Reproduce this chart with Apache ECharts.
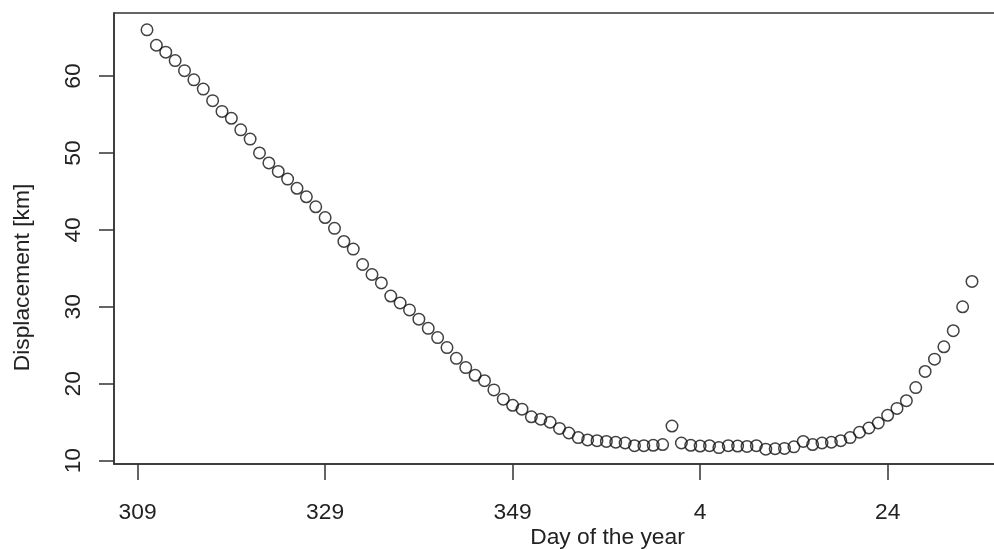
<!DOCTYPE html>
<html>
<head>
<meta charset="utf-8">
<script src="https://cdn.jsdelivr.net/npm/echarts@6/dist/echarts.min.js"></script>
<style>
html,body{margin:0;padding:0;background:#fff;}
#chart{width:994px;height:549px;}
</style>
</head>
<body>
<div id="chart"></div>
<script>
// Day of year (days after 365 belong to the next year)
const days = [310,311,312,313,314,315,316,317,318,319,320,321,322,323,324,325,326,327,328,329,
  330,331,332,333,334,335,336,337,338,339,340,341,342,343,344,345,346,347,348,349,
  350,351,352,353,354,355,356,357,358,359,360,361,362,363,364,365,366,367,368,369,
  370,371,372,373,374,375,376,377,378,379,380,381,382,383,384,385,386,387,388,389,
  390,391,392,393,394,395,396,397,398];
// Displacement [km]
const displacement = [66.0,64.0,63.1,62.0,60.7,59.5,58.3,56.8,55.4,54.5,53.0,51.8,50.0,48.7,47.6,46.6,45.4,44.3,43.0,41.6,
  40.2,38.5,37.5,35.5,34.2,33.1,31.4,30.5,29.6,28.4,27.2,26.0,24.7,23.3,22.1,21.1,20.4,19.2,18.0,17.2,
  16.7,15.7,15.4,15.0,14.2,13.6,13.0,12.7,12.6,12.5,12.4,12.3,11.95,11.95,12.0,12.1,14.5,12.3,12.0,11.9,
  11.95,11.7,11.95,11.9,11.85,11.95,11.5,11.55,11.6,11.8,12.5,12.1,12.3,12.4,12.6,13.0,13.7,14.25,14.9,15.9,
  16.8,17.8,19.5,21.6,23.2,24.8,26.9,30.0,33.3];
const xTicks = [309,329,349,369,389];
const yTicks = [10,20,30,40,50,60];
const xLabel = "Day of the year";
const yLabel = "Displacement [km]";

const points = days.map((d,i)=>[d, displacement[i]]);
const FONT = "'Liberation Sans', Arial, Helvetica, sans-serif";
const INK = '#222';
const FS = 22.8;

const chart = echarts.init(document.getElementById('chart'), null, {renderer:'canvas'});
chart.setOption({
  animation:false,
  backgroundColor:'#fff',
  grid:{left:114, top:13, bottom:85, right:-11, show:true, borderColor:'#333', borderWidth:1.5,
        containLabel:false, outerBoundsMode:'none'},
  xAxis:{
    type:'value', min:306.48, max:401.52,
    splitLine:{show:false},
    axisLine:{show:true, onZero:false, lineStyle:{color:'#333', width:1.5}},
    axisTick:{show:true, inside:false, length:16, customValues:xTicks, lineStyle:{color:'#333', width:1.5}},
    axisLabel:{customValues:xTicks, margin:37, fontSize:FS, color:INK, fontFamily:FONT,
      formatter:v=> String(v>365 ? v-365 : v)},
    name:xLabel, nameLocation:'middle', nameGap:62, nameMoveOverlap:false,
    nameTextStyle:{fontSize:FS, color:INK, fontFamily:FONT, padding:[0,0,0,96]}
  },
  yAxis:{
    type:'value', min:9.57, max:68.19,
    splitLine:{show:false},
    axisLine:{show:true, onZero:false, lineStyle:{color:'#333', width:1.5}},
    axisTick:{show:true, inside:false, length:15, customValues:yTicks, lineStyle:{color:'#333', width:1.5}},
    axisLabel:{customValues:yTicks, rotate:90, margin:29, fontSize:FS, color:INK, fontFamily:FONT},
    name:yLabel, nameLocation:'middle', nameGap:80, nameMoveOverlap:false,
    nameTextStyle:{fontSize:FS, color:INK, fontFamily:FONT, padding:[0,78,0,0]}
  },
  series:[{
    type:'scatter',
    data:points,
    symbol:'circle',
    symbolSize:11.5,
    itemStyle:{color:'transparent', borderColor:'#111', borderWidth:1.5},
    silent:true
  }]
});
</script>
</body>
</html>
